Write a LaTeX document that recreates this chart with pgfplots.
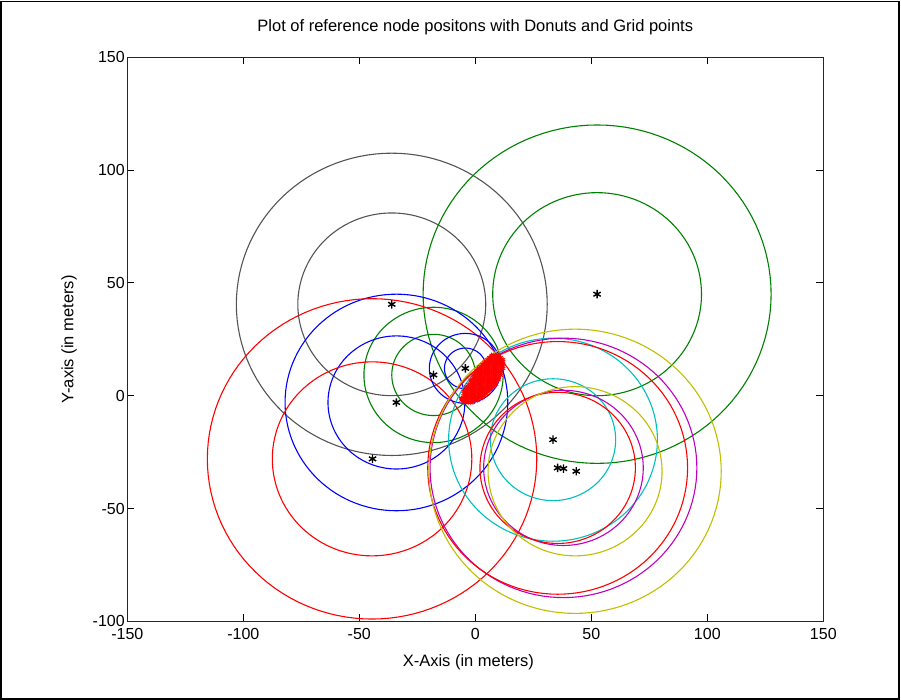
\documentclass[border=0pt]{standalone}
\usepackage{pgfplots}
\pgfplotsset{compat=1.18}
\usepackage{fontspec}
\setmainfont{Liberation Sans}

\definecolor{mgreen}{rgb}{0,0.5,0}
\definecolor{mcyan}{rgb}{0,0.75,0.75}
\definecolor{mmagenta}{rgb}{0.75,0,0.75}
\definecolor{myellow}{rgb}{0.75,0.75,0}
\definecolor{mgray}{rgb}{0.33,0.33,0.33}

% one ring of a donut: colour, centre x, centre y, radius
\newcommand{\ring}[4]{%
  \addplot[#1, line width=1.1pt, domain=0:360, samples=121, variable=\t]
    ({#2+#4*cos(\t)}, {#3+#4*sin(\t)});}

\newcommand{\lbl}{\fontsize{16}{18}\selectfont}
\newcommand{\ttl}{\fontsize{16.5}{18}\selectfont}

\begin{document}
\begin{tikzpicture}[x=1pt,y=1pt]
\useasboundingbox (0,0) rectangle (901,700);
\draw[line width=1.3pt] (1,1) rectangle (899,698.5);
\begin{axis}[
  at={(127.3pt,78.7pt)}, anchor=south west,
  scale only axis, width=696pt, height=564pt,
  xmin=-150, xmax=150, ymin=-100, ymax=150,
  xtick={-150,-100,-50,0,50,100,150},
  xticklabels={-150,-100,-50,0,50,100,150},
  ytick={-100,-50,0,50,100,150},
  yticklabels={-100,-50,0,50,100,150},
  tick align=inside, major tick length=7pt,
  tick style={black, line width=0.9pt},
  axis line style={line width=1.1pt, black!85},
  tick label style={font=\lbl},
  xticklabel style={yshift=-3pt},
  yticklabel style={xshift=1pt},
  title={Plot of reference node positons with Donuts and Grid points},
  title style={font=\ttl, at={(axis description cs:0.5,1.0355)}, anchor=base},
  xlabel={X-Axis (in meters)},
  xlabel style={font=\ttl, at={(axis description cs:0.49,-0.0798)}, anchor=base},
  ylabel={Y-axis (in meters)},
  ylabel style={font=\ttl, at={(axis description cs:-0.0776,0.5)}, anchor=base},
  clip=true,
]
% donuts: inner and outer ring around each reference node
\ring{mgray}{-36}{40.5}{40.5}
\ring{mgray}{-36}{40.5}{67}
\ring{mgreen}{52.5}{45}{45}
\ring{mgreen}{52.5}{45}{75}
\ring{mgreen}{-18}{9.2}{18}
\ring{mgreen}{-18}{9.2}{30}
\ring{blue}{-34}{-3}{29.5}
\ring{blue}{-34}{-3}{48}
\ring{red}{-44.5}{-28}{43}
\ring{red}{-44.5}{-28}{71}
\ring{blue}{-4.3}{12.1}{9}
\ring{blue}{-4.3}{12.1}{15.5}
\ring{mcyan}{33.5}{-19.5}{27}
\ring{mcyan}{33.5}{-19.5}{45}
\ring{mmagenta}{38}{-32}{34.4}
\ring{mmagenta}{38}{-32}{57.5}
\ring{red}{35.5}{-32}{33.5}
\ring{red}{35.5}{-32}{56}
\ring{myellow}{43}{-33.5}{37.5}
\ring{myellow}{43}{-33.5}{63}

% grid points lying inside every donut
\addplot[only marks, red, mark=asterisk, mark size=2.4pt, line width=0.8pt] coordinates {
(7,18) (8,18) (9,18) (10,18)
(6,17) (7,17) (8,17) (9,17) (10,17) (11,17)
(5,16) (6,16) (7,16) (8,16) (9,16) (10,16) (11,16) (12,16)
(4,15) (5,15) (6,15) (7,15) (8,15) (9,15) (10,15) (11,15) (12,15)
(3,14) (4,14) (5,14) (6,14) (7,14) (8,14) (9,14) (10,14) (11,14) (12,14)
(2,13) (3,13) (4,13) (5,13) (6,13) (7,13) (8,13) (9,13) (10,13) (11,13) (12,13)
(1,12) (2,12) (3,12) (4,12) (5,12) (6,12) (7,12) (8,12) (9,12) (10,12) (11,12) (12,12)
(1,11) (2,11) (3,11) (4,11) (5,11) (6,11) (7,11) (8,11) (9,11) (10,11) (11,11)
(0,10) (1,10) (2,10) (3,10) (4,10) (5,10) (6,10) (7,10) (8,10) (9,10) (10,10) (11,10)
(-1,9) (0,9) (1,9) (2,9) (3,9) (4,9) (5,9) (6,9) (7,9) (8,9) (9,9) (10,9) (11,9)
(-1,8) (0,8) (1,8) (2,8) (3,8) (4,8) (5,8) (6,8) (7,8) (8,8) (9,8) (10,8)
(-2,7) (-1,7) (0,7) (1,7) (2,7) (3,7) (4,7) (5,7) (6,7) (7,7) (8,7) (9,7) (10,7)
(-2,6) (-1,6) (0,6) (1,6) (2,6) (3,6) (4,6) (5,6) (6,6) (7,6) (8,6) (9,6)
(-3,5) (-2,5) (-1,5) (0,5) (1,5) (2,5) (3,5) (4,5) (5,5) (6,5) (7,5) (8,5) (9,5)
(-4,4) (-3,4) (-2,4) (-1,4) (0,4) (1,4) (2,4) (3,4) (4,4) (5,4) (6,4) (7,4) (8,4)
(-4,3) (-3,3) (-2,3) (-1,3) (0,3) (1,3) (2,3) (3,3) (4,3) (5,3) (6,3) (7,3)
(-5,2) (-4,2) (-3,2) (-2,2) (-1,2) (0,2) (1,2) (2,2) (3,2) (4,2) (5,2) (6,2)
(-5,1) (-4,1) (-3,1) (-2,1) (-1,1) (0,1) (1,1) (2,1) (3,1) (4,1) (5,1)
(-5,0) (-4,0) (-3,0) (-2,0) (-1,0) (0,0) (1,0) (2,0) (3,0) (4,0)
(-6,-1) (-5,-1) (-4,-1) (-3,-1) (-2,-1) (-1,-1) (0,-1) (1,-1) (2,-1) (3,-1)
(-6,-2) (-5,-2) (-4,-2) (-3,-2) (-2,-2) (-1,-2) (0,-2) (1,-2)
(-5,-3) (-4,-3) (-3,-3) (-2,-3) (-1,-3)
};

% reference node positions
\addplot[only marks, black, mark=asterisk, mark size=4.2pt, line width=1.4pt] coordinates {
(-36,40.5) (52.5,45) (-18,9.2) (-34,-3) (-44.3,-28) (-4.3,12.1)
(33.5,-19.5) (35.5,-32) (38,-32.3) (43.5,-33.5)
};
\end{axis}
\end{tikzpicture}
\end{document}
